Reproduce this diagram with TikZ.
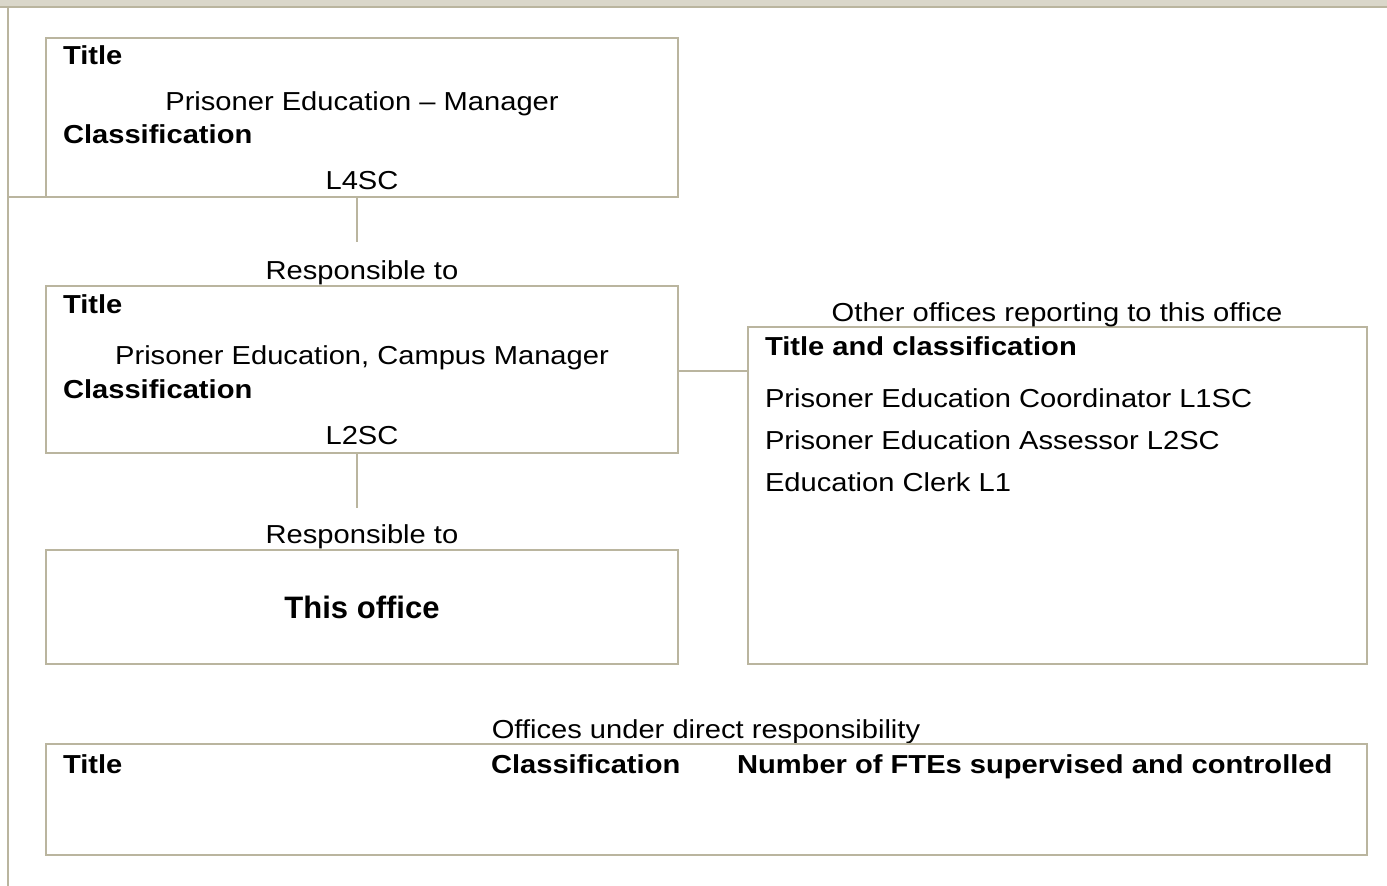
\documentclass[tikz,border=0pt]{standalone}
\usepackage{fontspec}
\newfontfamily\rf[FakeStretch=1.12]{Liberation Sans}
\newfontfamily\tfont{Liberation Sans}
\definecolor{ln}{RGB}{186,181,159}
\definecolor{band}{RGB}{218,215,202}
\tikzset{
  box/.style={draw=ln, line width=2pt, inner sep=0pt, outer sep=0pt, anchor=north west},
  conn/.style={draw=ln, line width=2pt},
  txt/.style={inner sep=0pt, outer sep=0pt, font=\rf\fontsize{26}{31}\selectfont, anchor=base west},
  ctxt/.style={txt, anchor=base},
  btxt/.style={txt, font=\rf\bfseries\fontsize{26}{31}\selectfont},
}
\begin{document}
\begin{tikzpicture}[x=1pt,y=-1pt]
\useasboundingbox (0,0) rectangle (1387,886);
% top band and left rule
\fill[band] (0,0) rectangle (1387,7);
\coordinate (bandL) at (0,7);
\coordinate (bandR) at (1387,7);
\draw[conn] (bandL) -- (bandR);
\coordinate (leftTop) at (8,7);
\coordinate (leftBot) at (8,886);
\draw[conn] (leftTop) -- (leftBot);

% box 1
\node[box, minimum width=632pt, minimum height=159pt] (b1) at (46,38) {};
\coordinate (hL) at (8,197);
\draw[conn] (hL) -- (b1.south east);
\node[btxt] (b1title) at (63,64) {Title};
\node[ctxt] (b1name) at (362,110) {Prisoner Education – Manager};
\node[btxt] (b1class) at (63,143) {Classification};
\node[ctxt] (b1lev) at (362,189) {L4SC};

% connector 1
\coordinate (c1top) at (357,197);
\coordinate (c1bot) at (357,242);
\draw[conn] (c1top) -- (c1bot);
\node[ctxt] (resp1) at (362,279) {Responsible to};

% box 2
\node[box, minimum width=632pt, minimum height=167pt] (b2) at (46,286) {};
\node[btxt] (b2title) at (63,313) {Title};
\node[ctxt] (b2name) at (362,364) {Prisoner Education, Campus Manager};
\node[btxt] (b2class) at (63,398) {Classification};
\node[ctxt] (b2lev) at (362,444) {L2SC};

% connector 2
\coordinate (c2top) at (357,453);
\coordinate (c2bot) at (357,508);
\draw[conn] (c2top) -- (c2bot);
\node[ctxt] (resp2) at (362,543) {Responsible to};

% box 3
\node[box, minimum width=632pt, minimum height=114pt] (b3) at (46,550) {};
\node[inner sep=0pt, anchor=base, font=\tfont\bfseries\fontsize{31}{36}\selectfont] (thisoff) at (362,618) {This office};

% right box
\node[box, minimum width=619pt, minimum height=337pt] (rb) at (748,327) {};
\node[ctxt] (rblab) at (1057,321) {Other offices reporting to this office};
\node[btxt] (rbtitle) at (765,355) {Title and classification};
\node[txt] (rb1) at (765,407) {Prisoner Education Coordinator L1SC};
\node[txt] (rb2) at (765,449) {Prisoner Education Assessor L2SC};
\node[txt] (rb3) at (765,491) {Education Clerk L1};
\draw[conn] (b2.east |- 0,371) -- (rb.west |- 0,371);

% bottom box
\node[ctxt] (botlab) at (706,738) {Offices under direct responsibility};
\node[box, minimum width=1321pt, minimum height=111pt] (bb) at (46,744) {};
\node[btxt] (bbt) at (63,773) {Title};
\node[btxt] (bbc) at (491,773) {Classification};
\node[btxt] (bbn) at (737,773) {Number of FTEs supervised and controlled};
\end{tikzpicture}
\end{document}
